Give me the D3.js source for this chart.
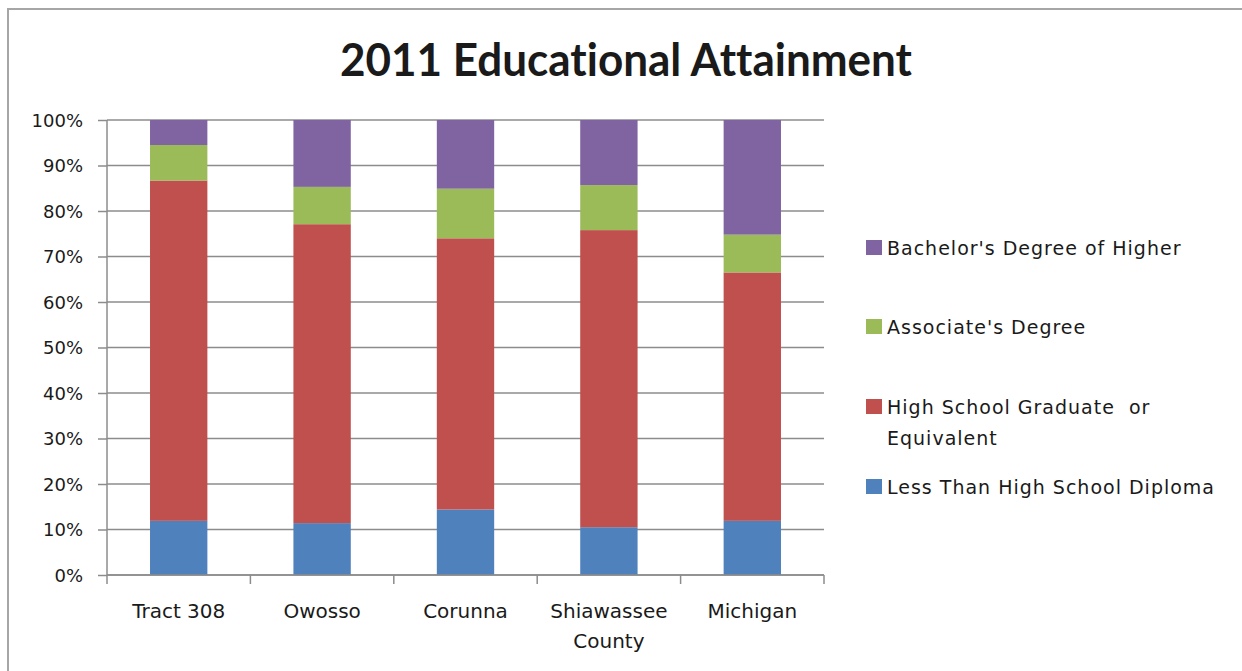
<!doctype html>
<html lang="en">
<head>
  <meta charset="utf-8">
  <title>2011 Educational Attainment</title>
  <script src="https://d3js.org/d3.v7.min.js"></script>
  <style>
    body { margin: 0; background: #fff; }
    text { font-family: 'DejaVu Sans', sans-serif; fill: #1a1a1a; font-variant-ligatures: none; }
  </style>
</head>
<body>
<div id="vis"></div>
<script>
// categories and series (percent)
const places = ['Tract 308', 'Owosso', 'Corunna', 'Shiawassee County', 'Michigan'];
const lessThanHS = [11.9, 11.4, 14.4, 10.5, 11.9];
const hsGraduate = [74.8, 65.7, 59.6, 65.3, 54.6];
const associates = [7.8, 8.2, 10.9, 9.9, 8.3];
const bachelors = [5.5, 14.7, 15.1, 14.3, 25.2];
const seriesNames = ["Less Than High School Diploma", "High School Graduate  or Equivalent",
                     "Associate's Degree", "Bachelor's Degree of Higher"];
const seriesColors = ['#4F81BD', '#C0504D', '#9BBB59', '#8064A2'];
const yTicks = [0, 10, 20, 30, 40, 50, 60, 70, 80, 90, 100];

const w = 1242, h = 671;
const plot = {left: 107, right: 824, top: 120, bottom: 575};

const rows = places.map((p, i) => ({
    place: p,
    s0: lessThanHS[i],
    s1: hsGraduate[i],
    s2: associates[i],
    s3: bachelors[i]
}));
const keys = ['s0', 's1', 's2', 's3'];
const stacked = d3.stack().keys(keys).offset(d3.stackOffsetExpand)(rows);

const svg = d3.select('#vis')
    .append('svg')
        .attr('width', w)
        .attr('height', h);

// chart frame
svg.append('rect')
    .attr('x', 8).attr('y', 9)
    .attr('width', 1400).attr('height', 800)
    .attr('fill', '#fff')
    .attr('stroke', '#a6a6a6')
    .attr('stroke-width', 2);

svg.append('text')
    .attr('x', 626)
    .attr('y', 76)
    .attr('text-anchor', 'middle')
    .attr('textLength', 572)
    .attr('lengthAdjust', 'spacingAndGlyphs')
    .style('font-family', "Lato, 'Liberation Sans', sans-serif")
    .style('font-weight', 'bold')
    .style('font-size', '46px')
    .attr('fill', '#000')
    .text('2011 Educational Attainment');

const x = d3.scaleBand()
    .domain(places)
    .range([plot.left, plot.right])
    .padding(0);

const y = d3.scaleLinear()
    .domain([0, 1])
    .range([plot.bottom, plot.top]);

const barW = x.bandwidth() * 0.4;

// gridlines
svg.append('g')
    .selectAll('line')
    .data(yTicks)
    .join('line')
        .attr('x1', plot.left)
        .attr('x2', plot.right)
        .attr('y1', d => y(d / 100))
        .attr('y2', d => y(d / 100))
        .attr('stroke', '#8c8c8c')
        .attr('stroke-width', 1.5);

// bars
svg.append('g')
    .selectAll('g')
    .data(stacked)
    .join('g')
        .attr('fill', (d, i) => seriesColors[i])
    .selectAll('rect')
    .data(d => d)
    .join('rect')
        .attr('x', d => x(d.data.place) + (x.bandwidth() - barW) / 2)
        .attr('width', barW)
        .attr('y', d => y(d[1]))
        .attr('height', d => y(d[0]) - y(d[1]));

// y axis
const yAxis = d3.axisLeft(y)
    .tickValues(yTicks.map(d => d / 100))
    .tickFormat(d3.format('.0%'))
    .tickSize(9)
    .tickPadding(15);

const yg = svg.append('g')
    .attr('transform', 'translate(' + plot.left + ',0)')
    .call(yAxis);
yg.selectAll('line, path').attr('stroke', '#8c8c8c').attr('stroke-width', 1.5);
yg.select('.domain').attr('d', 'M0,' + plot.top + 'V' + plot.bottom);
yg.selectAll('text')
    .style('font-size', '18px')
    .style('font-family', "'DejaVu Sans', sans-serif")
    .attr('fill', '#1a1a1a')
    .attr('dy', '0.36em');

// x axis: ticks sit on band boundaries
const xg = svg.append('g')
    .attr('transform', 'translate(0,' + plot.bottom + ')');
xg.append('line')
    .attr('x1', plot.left).attr('x2', plot.right)
    .attr('stroke', '#8c8c8c').attr('stroke-width', 1.5);
xg.selectAll('.tick')
    .data(places.concat(['end']))
    .join('line')
        .attr('class', 'tick')
        .attr('x1', (d, i) => i < places.length ? x(d) : plot.right)
        .attr('x2', (d, i) => i < places.length ? x(d) : plot.right)
        .attr('y1', 0).attr('y2', 9)
        .attr('stroke', '#8c8c8c').attr('stroke-width', 1.5);

const labelLines = {'Shiawassee County': ['Shiawassee', 'County']};
xg.selectAll('.xlabel')
    .data(places)
    .join('text')
        .attr('class', 'xlabel')
        .attr('text-anchor', 'middle')
        .style('font-size', '20px')
        .attr('transform', d => 'translate(' + (x(d) + x.bandwidth() / 2) + ',43)')
    .selectAll('tspan')
    .data(d => labelLines[d] || [d])
    .join('tspan')
        .attr('x', 0)
        .attr('y', (d, i) => i * 30)
        .text(d => d);

// legend, top entry is the top series
const legendY = [248, 327, 407, 487];
const legend = svg.append('g');
const entries = seriesNames.map((n, i) => ({name: n, color: seriesColors[i], i}))
    .reverse();
entries.forEach((e, k) => {
    const g = legend.append('g').attr('transform', 'translate(866,' + legendY[k] + ')');
    g.append('rect')
        .attr('x', 0).attr('y', -8)
        .attr('width', 16).attr('height', 15)
        .attr('fill', e.color);
    const parts = e.name === "High School Graduate  or Equivalent"
        ? ['High School Graduate  or', 'Equivalent'] : [e.name];
    const t = g.append('text')
        .style('font-size', '19px')
        .style('letter-spacing', '1px')
        .style('white-space', 'pre');
    t.selectAll('tspan')
        .data(parts)
        .join('tspan')
            .attr('x', 21)
            .attr('y', (d, i) => 7 + i * 31)
            .text(d => d);
});
</script>
</body>
</html>
